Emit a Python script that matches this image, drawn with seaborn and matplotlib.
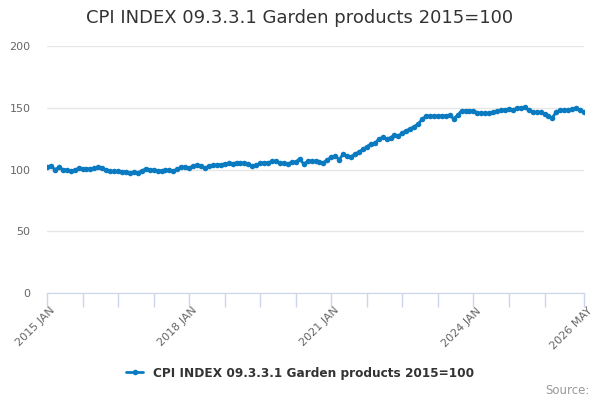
import numpy as np
import pandas as pd
import matplotlib
matplotlib.use("Agg")
import matplotlib.pyplot as plt
import seaborn as sns

# monthly index values, Jan 2015 .. May 2026
y2015 = [102.3, 103, 100, 101.7, 100, 99.5, 99, 99.5, 101, 100.5, 100.5, 100.5]
y2016 = [101, 102.3, 101, 99.5, 98.5, 98.5, 98.5, 98.3, 98, 97.5, 97.8, 97.4]
y2017 = [99, 100.5, 100, 99.5, 99, 99, 99.5, 99.5, 98.5, 100.5, 101.7, 102.3]
y2018 = [101, 103, 103.5, 103, 101, 103, 103.5, 103.5, 104, 104.5, 105, 104.8]
y2019 = [105.5, 105, 105.5, 104.5, 102.5, 103.5, 105, 105.5, 105.5, 106.6, 106.6, 105.5]
y2020 = [105, 104.5, 106, 106, 108.8, 104.5, 106.5, 107, 106.5, 106, 105.5, 108]
y2021 = [109.9, 110.9, 108, 112.5, 110.9, 110.4, 112.5, 114.2, 116.3, 118.5, 120.6, 121.2]
y2022 = [124.4, 126.1, 125, 125.6, 128.2, 127.1, 129.8, 131.4, 133, 134.7, 137, 140.6]
y2023 = [143.3, 143.3, 143.3, 143.3, 143.3, 143.5, 144, 141.1, 144, 147.6, 147.6, 147.6]
y2024 = [147.6, 146, 145.5, 145.5, 145.5, 146.3, 147, 147.9, 148.4, 149, 148.4, 149.5]
y2025 = [150, 150.3, 147.9, 146.3, 146.3, 146.3, 145.2, 143, 142, 146.8, 147.9, 147.9]
y2026 = [148.4, 149, 149.5, 148.4, 146.8]

series_name = "CPI INDEX 09.3.3.1 Garden products 2015=100"
y_ticks = [0, 50, 100, 150, 200]
label_months = [0, 36, 72, 108, 136]

values = y2015 + y2016 + y2017 + y2018 + y2019 + y2020 + y2021 + y2022 + y2023 + y2024 + y2025 + y2026
dates = pd.date_range("2015-01-01", periods=len(values), freq="MS")
df = pd.DataFrame({"month": np.arange(len(values)), "value": values})

sns.set_style("white")
plt.rcParams["font.family"] = ["DejaVu Sans"]

fig = plt.figure(figsize=(6, 4), dpi=100)
ax = fig.add_axes([47 / 600, 107 / 400, 537 / 600, 247 / 400])

blue = "#0b7bc1"
sns.lineplot(data=df, x="month", y="value", ax=ax, color=blue, linewidth=2,
             marker="o", markersize=4, markeredgewidth=0, label=series_name)

ax.set_xlim(0, len(values) - 1)
ax.set_ylim(0, 200)
ax.set_yticks(y_ticks)
ax.tick_params(axis="y", length=0, labelsize=8, labelcolor="#666666", pad=12)
ax.yaxis.grid(True, color="#e6e6e6", linewidth=1)
ax.set_axisbelow(True)

# tick marks every 9 months, plus one at the last month
tick_pos = list(range(0, 127, 9)) + [len(values) - 1]
ax.set_xticks(tick_pos)
ax.set_xticklabels([""] * len(tick_pos))
ax.tick_params(axis="x", bottom=True, direction="out", length=10, width=1, color="#ccd6eb")
for m in label_months:
    lbl = dates[m].strftime("%Y %b").upper()
    ax.annotate(lbl, xy=(m, 0), xycoords="data", xytext=(2, -9), textcoords="offset points",
                rotation=45, ha="right", va="top", rotation_mode="anchor",
                fontsize=8, color="#666666", annotation_clip=False)

for s in ["top", "right", "left"]:
    ax.spines[s].set_visible(False)
ax.spines["bottom"].set_color("#ccd6eb")
ax.set_xlabel("")
ax.set_ylabel("")

ax.get_legend().remove()
handles, labels = ax.get_legend_handles_labels()
leg = fig.legend(handles, labels, loc="center", bbox_to_anchor=(0.5, 0.067), frameon=False,
                 handlelength=1.4, prop={"weight": "bold", "size": 8.7})
for t in leg.get_texts():
    t.set_color("#333333")

fig.suptitle(series_name, x=0.5, y=0.978, fontsize=13, color="#333333")
fig.text(0.982, 0.008, "Source:", ha="right", va="bottom", fontsize=8.5, color="#999999")

fig.savefig("out.png", dpi=100)
